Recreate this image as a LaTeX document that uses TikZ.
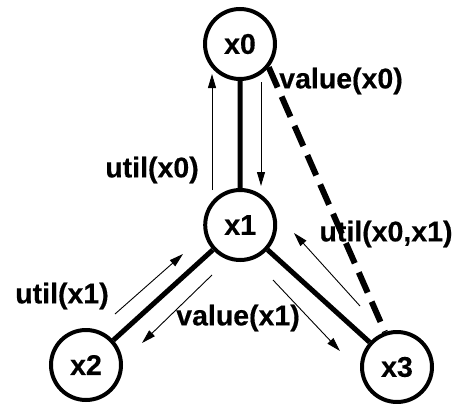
\documentclass[tikz,border=0pt]{standalone}
\usepackage{fontspec}
\setmainfont{Liberation Sans}
\newfontfamily\lblfont{Liberation Sans Bold}[FakeBold=0.4]
\usetikzlibrary{arrows.meta}
\tikzset{
  var/.style={circle, draw, line width=4pt, minimum size=70pt, inner sep=0pt,
    font=\fontsize{28.5}{31}\lblfont},
  lbl/.style={inner sep=0pt, font=\fontsize{28.5}{31}\lblfont},
  tree/.style={line width=5pt},
  back/.style={line width=6pt, dash pattern=on 22pt off 10pt},
  msg/.style={line width=0.9pt, -{Triangle[length=14pt,width=8pt]}}
}
\begin{document}
\begin{tikzpicture}[x=1pt, y=-1pt]
  \useasboundingbox (0,0) rectangle (455,404);

  % variables
  \node[var] (x0) at (240,44)  {x0};
  \node[var] (x1) at (240.2,225) {x1};
  \node[var] (x2) at (86,365)  {x2};
  \node[var] (x3) at (397,367) {x3};

  % tree edges and back edge
  \draw[tree] (x0) -- (x1);
  \draw[tree] (x1) -- (x2);
  \draw[tree] (x1) -- (x3);
  \draw[back] (x0.-39) -- (x3.109);

  % message arrows
  \coordinate (u0s) at (212,190);  \coordinate (u0e) at (212,74);
  \coordinate (v0s) at (261,82);   \coordinate (v0e) at (261,186);
  \coordinate (u1s) at (115,314);  \coordinate (u1e) at (183,254);
  \coordinate (v1as) at (212,275); \coordinate (v1ae) at (142,343);
  \coordinate (v1bs) at (273,280); \coordinate (v1be) at (340,351);
  \coordinate (u2s) at (360,306);  \coordinate (u2e) at (294,233);
  \draw[msg] (u0s) -- (u0e);
  \draw[msg] (v0s) -- (v0e);
  \draw[msg] (u1s) -- (u1e);
  \draw[msg] (v1as) -- (v1ae);
  \draw[msg] (v1bs) -- (v1be);
  \draw[msg] (u2s) -- (u2e);

  % message labels
  \node[lbl] (lv0) at (341,81)  {value(x0)};
  \node[lbl] (lu0) at (152,170) {util(x0)};
  \node[lbl] (lu2) at (386,234) {util(x0,x1)};
  \node[lbl] (lu1) at (62,296)  {util(x1)};
  \node[lbl] (lv1) at (238,318) {value(x1)};
\end{tikzpicture}
\end{document}
